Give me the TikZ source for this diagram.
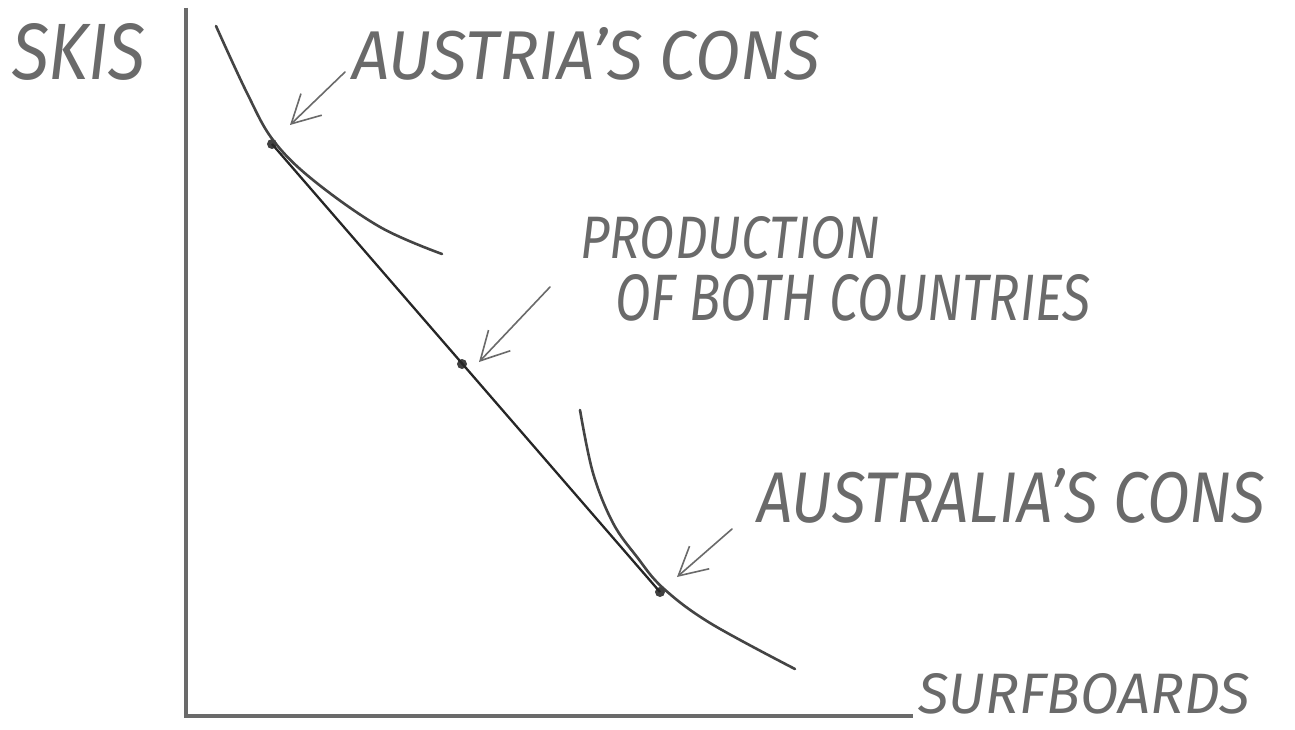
\documentclass[tikz,border=0pt]{standalone}
\usepackage{fontspec}
\setmainfont{Fira Sans}
\usetikzlibrary{arrows.meta}
\definecolor{ink}{HTML}{6A6A6A}
\definecolor{axisink}{HTML}{6A6A6A}
\definecolor{curveink}{HTML}{444444}
\newcommand{\handlabel}[3]{\resizebox{#1pt}{#2pt}{\itshape #3}}
\begin{document}
\begin{tikzpicture}[x=1pt,y=-1pt,
  axisline/.style={draw=axisink, line width=3.5pt},
  curveline/.style={draw=curveink, line width=2.6pt, line cap=round},
  tangentline/.style={draw=black!85, line width=2.3pt},
  pointer/.style={draw=ink, line width=1.6pt, line cap=round,
    -{Straight Barb[length=28pt,width=30pt,line width=1.6pt]}},
  dotmark/.style={circle, fill=black!75, inner sep=0pt, minimum size=10pt},
  handtext/.style={anchor=base west, inner sep=0pt, text=ink}
]
\useasboundingbox[fill=white] (0,0) rectangle (1295,730);

% axes
\coordinate (origin) at (186,716);
\coordinate (ytop) at (186,8);
\coordinate (xend) at (913,716);
\draw[axisline] (ytop) -- (origin) -- (xend);

% indifference curves
\draw[curveline] plot[smooth, tension=0.6] coordinates
  {(216,26) (247,93) (273,140) (313,180) (380,227) (442,254)};
\draw[curveline] plot[smooth, tension=0.6] coordinates
  {(580,410) (593,473) (613,523) (637,557) (663,588) (710,623) (795,669)};

% points
\node[dotmark] (austriapt) at (272,144) {};
\node[dotmark] (prodpt) at (462,364) {};
\node[dotmark] (australiapt) at (660,592) {};
\draw[tangentline] (austriapt.center) -- (australiapt.center);

% pointers
\coordinate (atail) at (345,72);  \coordinate (atip) at (290,125);
\coordinate (ptail) at (550,287); \coordinate (ptip) at (479,362);
\coordinate (ltail) at (732,529); \coordinate (ltip) at (677,577);
\draw[pointer] (atail) -- (atip);
\draw[pointer] (ptail) -- (ptip);
\draw[pointer] (ltail) -- (ltip);

% labels
\node[handtext] (skis) at (12,80) {\handlabel{133}{56}{SKIS}};
\node[handtext] (austrialbl) at (352,80) {\handlabel{468}{52}{AUSTRIA'S CONS}};
\node[handtext] (prodlbl) at (580,258) {\handlabel{300}{42}{PRODUCTION}};
\node[handtext] (bothlbl) at (615,320) {\handlabel{475}{46}{OF BOTH COUNTRIES}};
\node[handtext] (australialbl) at (757,522) {\handlabel{508}{54}{AUSTRALIA'S CONS}};
\node[handtext] (surflbl) at (918,713) {\handlabel{332}{40}{SURFBOARDS}};
\end{tikzpicture}
\end{document}
